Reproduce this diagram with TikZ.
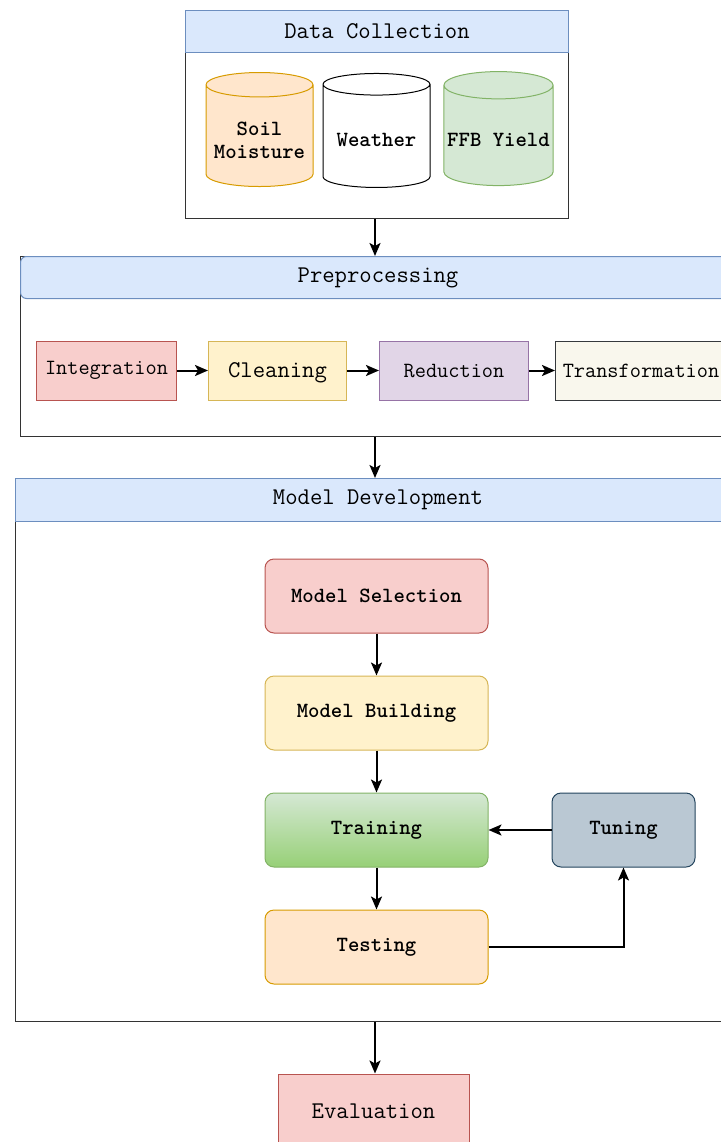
\documentclass[tikz,border=0pt]{standalone}
\usepackage{fontspec}
\usetikzlibrary{arrows.meta,positioning,shapes.geometric}
\definecolor{hdfill}{HTML}{DAE8FC}
\definecolor{hdline}{HTML}{6C8EBF}
\definecolor{redfill}{HTML}{F8CECC}
\definecolor{redline}{HTML}{B85450}
\definecolor{yelfill}{HTML}{FFF2CC}
\definecolor{yelline}{HTML}{D6B656}
\definecolor{orafill}{HTML}{FFE6CC}
\definecolor{oraline}{HTML}{D79B00}
\definecolor{grnfill}{HTML}{D5E8D4}
\definecolor{grndark}{HTML}{97D077}
\definecolor{grnline}{HTML}{82B366}
\definecolor{purfill}{HTML}{E1D5E7}
\definecolor{purline}{HTML}{9673A6}
\definecolor{crmfill}{HTML}{F9F7ED}
\definecolor{crmline}{HTML}{36393D}
\definecolor{blufill}{HTML}{BAC8D3}
\definecolor{bluline}{HTML}{23445D}
% text in the drums sits low, under the lid
\newcommand{\zak}[1]{\raisebox{-4pt}[\height][\depth]{\begin{tabular}{@{}c@{}}#1\end{tabular}}}
\tikzset{
    %Define standard arrow tip
    >={Stealth[length=13pt, width=11pt, inset=3pt]},
    %Define style for the big frames
    lane/.style={
           rectangle,
           draw=black!80, line width=1pt,
           anchor=north west},
    kop/.style={
           rectangle,
           draw=hdline, fill=hdfill, line width=1pt,
           font=\ttfamily\fontsize{24}{27}\selectfont},
    % Define style for boxes
    blok/.style={
           rectangle,
           line width=1pt,
           minimum width=140, minimum height=59,
           font=\ttfamily\fontsize{21.7}{25}\selectfont},
    stap/.style={
           rectangle, rounded corners=9pt,
           line width=1pt,
           minimum width=223, minimum height=74,
           font=\ttfamily\bfseries\fontsize{21.7}{25}\selectfont},
    vat/.style={
           cylinder, shape border rotate=90, aspect=0.25,
           line width=1pt,
           minimum width=107, minimum height=114,
           font=\ttfamily\bfseries\fontsize{21.7}{23}\selectfont},
    % Define arrow style
    pil/.style={
           ->,
           line width=2pt}
}

\begin{document}
\begin{tikzpicture}[x=1pt, y=-1pt]
\useasboundingbox (0,0) rectangle (720,1142);

% Data Collection
\node[lane, minimum width=383, minimum height=208] (dc) at (185,10) {};
\node[kop, minimum width=383, minimum height=42, anchor=north] (dch) at (dc.north) {Data Collection};
\node[vat, draw=oraline, fill=orafill] (soil) at (259.5,138) {\zak{Soil\\Moisture}};
\node[vat, draw=black, fill=white] (weer) at (376.5,138) {\zak{Weather}};
\node[vat, draw=grnline, fill=grnfill] (ffb) at (498.5,138) {\zak{FFB Yield}};

% Preprocessing
\node[lane, minimum width=715, minimum height=180] (pre) at (20,256) {};
\node[kop, rounded corners=6pt, minimum width=715, minimum height=42, anchor=north] (preh) at (pre.north) {Preprocessing};
\node[blok, draw=redline, fill=redfill, anchor=west] (integ) at (36,370.5) {Integration};
\node[blok, draw=yelline, fill=yelfill, right=31pt of integ, minimum width=138,
      font=\ttfamily\fontsize{24}{27}\selectfont] (clean) {\raisebox{-2pt}[\height][\depth]{Cleaning}};
\node[blok, draw=purline, fill=purfill, right=32pt of clean, minimum width=149] (reduc) {Reduction};
\node[blok, draw=crmline, fill=crmfill, right=26pt of reduc, minimum width=171] (trans) {Transformation};
\draw[pil] (integ) -- (clean);
\draw[pil] (clean) -- (reduc);
\draw[pil] (reduc) -- (trans);

% Model Development
\node[lane, minimum width=725, minimum height=543] (md) at (15,478) {};
\node[kop, minimum width=725, minimum height=43, anchor=north] (mdh) at (md.north) {Model Development};
\node[stap, draw=redline, fill=redfill] (sel) at (376.5,596) {Model Selection};
\node[stap, draw=yelline, fill=yelfill, below=42pt of sel] (bouw) {Model Building};
\node[stap, draw=grnline, top color=grnfill, bottom color=grndark, below=42pt of bouw] (trn) {Training};
\node[stap, draw=oraline, fill=orafill, below=42pt of trn] (tst) {Testing};
\node[stap, draw=bluline, fill=blufill, minimum width=143] (tun) at (623.5,830) {Tuning};
\draw[pil] (sel) -- (bouw);
\draw[pil] (bouw) -- (trn);
\draw[pil] (trn) -- (tst);
\draw[pil] (tun.west) -- (tun.west -| trn.east);
\draw[pil] (tst.east) -| (tun.south);

% Evaluation
\node[blok, draw=redline, fill=redfill, minimum width=191, minimum height=74,
      font=\ttfamily\fontsize{24}{27}\selectfont] (eval) at (373.5,1111) {Evaluation};

\draw[pil] (dc.south -| 375,0) -- (375,256);
\draw[pil] (pre.south -| 375,0) -- (375,478);
\draw[pil] (md.south -| 375,0) -- (eval.north -| 375,0);
\end{tikzpicture}
\end{document}
